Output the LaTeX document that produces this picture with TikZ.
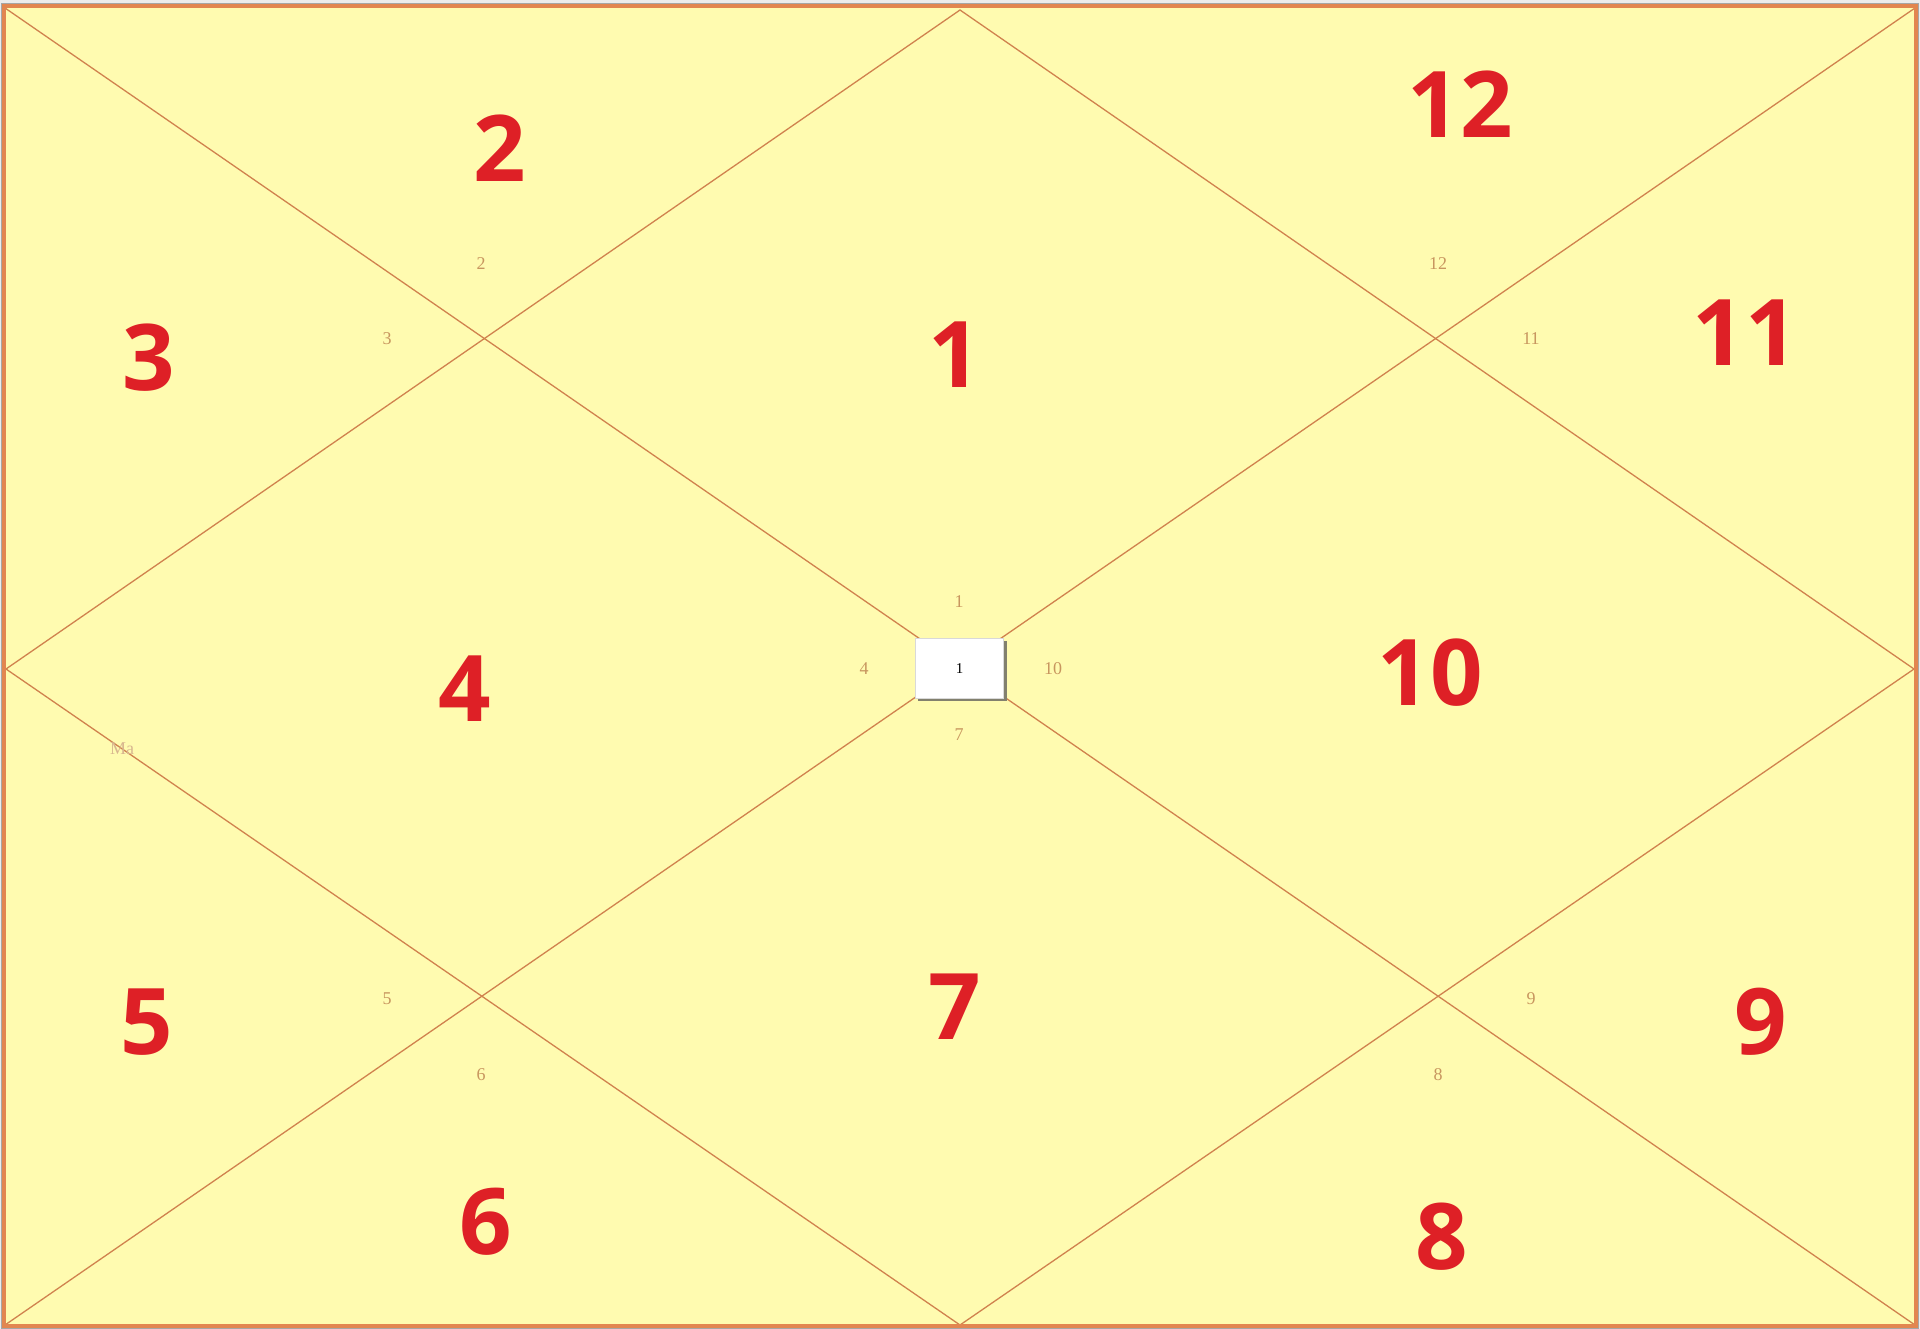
\documentclass[tikz,border=0pt]{standalone}
\usepackage{fontspec}
\setmainfont{Liberation Serif}
\newfontfamily\bigfont{Open Sans}
\definecolor{bgyellow}{RGB}{255,251,176}
\definecolor{frameorange}{RGB}{226,134,80}
\definecolor{lineorange}{RGB}{208,130,78}
\definecolor{bigred}{RGB}{222,32,38}
\definecolor{smalltan}{RGB}{200,150,95}
\definecolor{boxshadow}{RGB}{130,128,110}
\begin{document}
\begin{tikzpicture}[x=1pt,y=-1pt,
  bignum/.style={text=bigred,font=\bigfont\bfseries\fontsize{92}{92}\selectfont,inner sep=0pt},
  smallnum/.style={text=smalltan,font=\fontsize{18}{18}\selectfont,inner sep=0pt},
  chartline/.style={draw=lineorange,line width=1.3pt}]
\useasboundingbox (0,0) rectangle (1920,1329);
\fill[white!85!gray] (0,0) rectangle (1920,1329);
\fill[bgyellow] (4,6) rectangle (1916,1326);
% corner and midpoint coordinates
\coordinate (tl) at (5,8);
\coordinate (tr) at (1915,8);
\coordinate (bl) at (5,1325);
\coordinate (br) at (1915,1325);
\coordinate (tm) at (960,10);
\coordinate (bm) at (960,1325);
\coordinate (lm) at (6,669);
\coordinate (rm) at (1914,669);
% diagonals
\draw[chartline] (tl) -- (br);
\draw[chartline] (tr) -- (bl);
% inner diamond
\draw[chartline] (tm) -- (rm) -- (bm) -- (lm) -- cycle;
% frame
\draw[frameorange,line width=4pt] (4,6) rectangle (1916,1326);
\draw[gray!70,line width=1pt] (1.5,3.5) rectangle (1918.5,1328);
% centre box
\fill[boxshadow] (918,641) rectangle (1007,701);
\node[draw=gray!30,fill=white,minimum width=88pt,minimum height=60pt,inner sep=0pt,
  font=\fontsize{15}{15}\selectfont] (asc) at (959.5,668.5) {1};
% big house numbers
\node[bignum] (h2) at (500,148) {2};
\node[bignum] (h12) at (1460,104) {12};
\node[bignum] (h3) at (149,358) {3};
\node[bignum] (h1) at (955,355) {1};
\node[bignum] (h11) at (1745,333) {11};
\node[bignum] (h4) at (465,689) {4};
\node[bignum] (h10) at (1430,673) {10};
\node[bignum] (h5) at (147,1022) {5};
\node[bignum] (h7) at (955,1007) {7};
\node[bignum] (h9) at (1761,1022) {9};
\node[bignum] (h6) at (486,1222) {6};
\node[bignum] (h8) at (1442,1237) {8};
% small sign numbers
\node[smallnum] (s2) at (481,264) {2};
\node[smallnum] (s12) at (1438,264) {12};
\node[smallnum] (s3) at (387,339) {3};
\node[smallnum] (s11) at (1531,339) {11};
\node[smallnum] (s1) at (959,602) {1};
\node[smallnum] (s4) at (864,669) {4};
\node[smallnum] (s10) at (1053,669) {10};
\node[smallnum] (s7) at (959,735) {7};
\node[smallnum] (s5) at (387,999) {5};
\node[smallnum] (s9) at (1531,999) {9};
\node[smallnum] (s6) at (481,1075) {6};
\node[smallnum] (s8) at (1438,1075) {8};
\node[smallnum,text=smalltan!70] (ma) at (122,749) {Ma};
\end{tikzpicture}
\end{document}
